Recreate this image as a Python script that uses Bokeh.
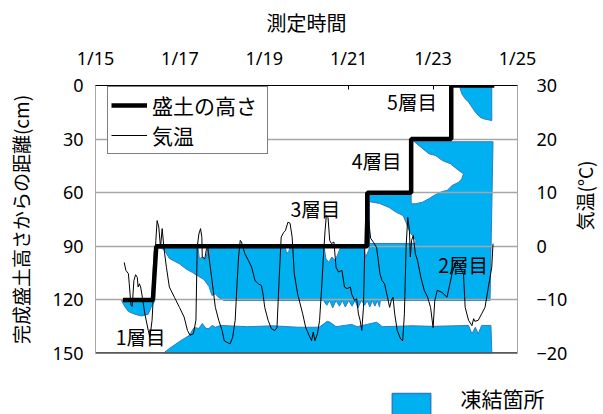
from math import pi
from bokeh.plotting import figure
from bokeh.layouts import column, row
from bokeh.models import Range1d, LinearAxis, FixedTicker, Legend, LegendItem, Label
from bokeh.embed import file_html
from bokeh.resources import INLINE
from bokeh.core.properties import value

JP = "Noto Sans CJK JP"
NUM = "Noto Sans"

# ---- axis ticks ----
date_ticks = [15, 17, 19, 21, 23, 25]
date_labels = ["1/15", "1/17", "1/19", "1/21", "1/23", "1/25"]
depth_ticks = [0, 30, 60, 90, 120, 150]
grid_depths = [30, 60, 90, 120]
temp_ticks = [-20, -10, 0, 10, 20, 30]

# ---- embankment height (distance from finished surface, cm) ----
step_day = [15.65, 16.36, 16.44, 21.44, 21.44, 22.48, 22.48, 23.43, 23.43, 24.45]
step_depth = [120, 120, 90, 90, 60, 60, 30, 30, 0, 0]

# ---- air temperature ----
temp_day = [15.68, 15.72, 15.78, 15.80, 15.84, 15.87, 15.91, 15.95, 15.99, 16.01,
            16.04, 16.07, 16.11, 16.17, 16.25, 16.29, 16.34, 16.39, 16.43, 16.46,
            16.50, 16.54, 16.58, 16.62, 16.68, 16.75, 16.87, 16.99, 17.10, 17.18,
            17.24, 17.32, 17.38, 17.41, 17.45, 17.49, 17.52, 17.53, 17.59, 17.63,
            17.66, 17.73, 17.79, 17.84, 17.92, 18.00, 18.05, 18.11, 18.19, 18.25,
            18.31, 18.35, 18.39, 18.43, 18.46, 18.54, 18.62, 18.70, 18.78, 18.86,
            18.93, 18.97, 19.01, 19.09, 19.17, 19.25, 19.30, 19.35, 19.40, 19.46,
            19.50, 19.56, 19.61, 19.66, 19.71, 19.79, 19.91, 19.98, 20.06, 20.12,
            20.16, 20.20, 20.26, 20.31, 20.36, 20.40, 20.44, 20.47, 20.51, 20.55,
            20.59, 20.65, 20.70, 20.76, 20.84, 20.90, 20.96, 21.04, 21.07, 21.14,
            21.19, 21.23, 21.27, 21.31, 21.35, 21.39, 21.41, 21.46, 21.52, 21.59,
            21.66, 21.70, 21.74, 21.79, 21.85, 21.92, 21.97, 22.01, 22.05, 22.09,
            22.15, 22.23, 22.28, 22.32, 22.36, 22.40, 22.44, 22.46, 22.49, 22.53,
            22.58, 22.63, 22.71, 22.79, 22.87, 22.94, 23.00, 23.04, 23.10, 23.21,
            23.33, 23.45, 23.53, 23.64, 23.72, 23.76, 23.84, 23.92, 23.96, 23.99,
            24.07, 24.15, 24.23, 24.31, 24.39, 24.42]
temp_val = [-3.0, -4.5, -5.1, -7.0, -11.0, -11.2, -6.4, -5.3, -5.8, -7.6,
            -7.0, -7.6, -9.5, -12.6, -15.7, -17.0, -13.8, -6.4, 1.1, 4.8,
            3.6, -0.2, 3.3, -0.2, -3.9, -7.6, -9.5, -11.4, -13.2, -15.7,
            -16.6, -16.3, -13.8, -0.2, 2.3, 3.3, 1.7, -2.0, -2.3, -0.5,
            -0.2, -4.5, -8.2, -11.4, -13.8, -15.7, -17.6, -17.9, -18.2, -17.0,
            -13.8, -7.6, -2.0, 1.1, 0.8, -1.4, -2.6, -3.9, -6.4, -7.0,
            -7.3, -8.9, -11.4, -13.8, -15.4, -15.7, -15.2, -6.4, 1.7, 2.6,
            2.9, 4.5, 4.3, 1.7, -5.1, -8.9, -12.6, -15.1, -16.6, -17.6,
            -16.0, -17.6, -16.3, -13.8, -7.6, -2.0, 2.9, 5.7, 5.4, 1.1,
            0.5, 0.8, -3.9, -4.8, -4.5, -7.6, -7.9, -7.6, -8.9, -10.1,
            -9.8, -12.6, -13.8, -15.7, -11.4, 2.9, 7.6, 5.7, 1.5, 0.7,
            -0.2, -2.6, -5.1, -6.4, -7.0, -9.5, -11.4, -10.1, -9.5, -12.6,
            -15.7, -17.3, -17.6, -12.6, -0.2, 5.4, 2.9, -2.0, 1.1, 2.0,
            -1.4, -2.6, -5.8, -8.2, -9.5, -11.4, -15.2, -10.1, -8.2, -8.6,
            -9.5, -5.1, -3.0, -3.9, -5.1, -11.4, -13.8, -14.8, -13.5, -14.0,
            -13.8, -12.6, -11.4, -7.6, -3.9, 0.5]

# ---- frozen zones (day, depth cm) ----
frozen1_day = [15.62, 16.33, 16.39, 16.43, 16.42, 16.40, 16.36, 16.32, 16.25, 16.09, 15.93, 15.78, 15.70, 15.62]
frozen1_dep = [120, 120, 93, 92, 100, 121, 122, 124, 128, 129, 128, 126.5, 124, 120.5]

frozen2_day = [16.47, 17.43, 17.46, 17.53, 17.60, 17.67, 19.50, 19.53, 19.58, 19.60,
               20.42, 20.46, 20.53, 20.60, 20.68, 20.75, 20.80, 21.36, 21.40, 21.44,
               21.48, 21.48, 22.48, 22.48, 24.42, 24.35, 21.75, 21.73, 21.68, 21.62,
               21.56, 21.50, 21.44, 21.38, 21.30, 21.22, 21.15, 21.08, 21.00, 20.92,
               20.85, 20.78, 20.70, 20.62, 20.55, 20.48, 20.40, 18.04, 17.92, 17.84,
               17.76, 17.69, 17.57, 17.45, 17.30, 17.14, 16.99, 16.75, 16.64, 16.57]
frozen2_dep = [91, 91, 97, 96, 98, 91, 91, 94, 93, 91,
               91, 97, 99, 96, 98, 94, 91, 91, 96, 94,
               92, 61, 61, 31.5, 31.5, 120.3, 120.3, 124, 120.3, 123.5,
               120.3, 124, 120.3, 123, 120.3, 124.5, 120.3, 123.5, 120.3, 124,
               120.3, 123.5, 120.3, 124.5, 120.3, 123, 120.3, 120.3, 118.7, 116.6,
               117.5, 112.5, 108.6, 106.9, 104.7, 102.6, 99.8, 96.8, 92.4, 91.2]

frozen_base_day = [16.60, 16.75, 16.99, 17.22, 17.34, 17.45, 17.53, 17.62, 17.69, 17.76,
                   17.84, 17.96, 18.6, 19.2, 19.8, 20.30, 20.49, 20.56, 20.70, 21.07,
                   21.20, 21.66, 21.80, 22.5, 23.0, 23.84, 23.92, 24.00, 24.07, 24.15,
                   24.37, 24.39, 24.39]
frozen_base_dep = [150, 147.2, 143.3, 139.9, 135.4, 136, 133.2, 136, 136, 134.3,
                   135.3, 134.3, 135, 134.5, 135.3, 135.3, 132, 132.5, 135, 133.7,
                   135, 132.5, 135, 134.5, 134.8, 134.3, 139, 135.3, 139, 134.3,
                   134.3, 148, 150]

frozen5_day = [23.64, 24.39, 24.39, 24.19, 24.11, 24.00, 23.92, 23.84, 23.76, 23.68, 23.64]
frozen5_dep = [1.0, 1.0, 19.6, 18.6, 17.7, 14.9, 12.1, 9.3, 7.4, 4.6, 1.5]

# unfrozen pockets inside layers 3 and 4
thaw3_day = [21.49, 21.73, 21.96, 22.13, 22.29, 22.36, 22.45, 22.55, 22.59, 22.59, 21.49]
thaw3_dep = [65, 66, 68.3, 71, 72.8, 76.7, 82.3, 85, 86.8, 88.4, 88.4]
thaw4_day = [22.48, 22.52, 22.71, 22.90, 23.06, 23.22, 23.41, 23.61, 23.72, 23.68,
             23.61, 23.45, 23.33, 23.22, 23.14, 23.02, 22.90, 22.75, 22.59, 22.48]
thaw4_dep = [30.2, 30.8, 34.5, 38.2, 39.2, 42.0, 43.8, 47.6, 49.4, 52.2,
             54.1, 56.0, 58.8, 59.3, 60.1, 61.6, 63.4, 65.3, 66.2, 66.2]

layer_names = ["1層目", "2層目", "3層目", "4層目", "5層目"]
layer_day = [16.07, 23.71, 20.21, 21.66, 22.50]
layer_dep = [140.5, 100.2, 68.8, 42.0, 9.0]

frozen_xs = [frozen1_day, frozen2_day, frozen_base_day, frozen5_day]
frozen_ys = [frozen1_dep, frozen2_dep, frozen_base_dep, frozen5_dep]

BLUE = "#00B0F0"
EDGE = "#2E7CC4"
GRID = "#A6A6A6"

# ================= main chart =================
p = figure(width=570, height=380, x_range=Range1d(15, 25), y_range=Range1d(150, 0),
           x_axis_location="above", toolbar_location=None, output_backend="svg",
           min_border_left=95, min_border_right=47, min_border_top=85, min_border_bottom=27)
p.extra_y_ranges = {"temp": Range1d(-20, 30)}
p.xgrid.visible = False
p.ygrid.visible = False
p.outline_line_color = GRID
p.background_fill_color = "white"
p.border_fill_color = "white"

xa = p.xaxis[0]
xa.ticker = FixedTicker(ticks=date_ticks)
xa.major_label_overrides = {t: l for t, l in zip(date_ticks, date_labels)}
xa.minor_tick_line_color = None
xa.major_tick_in = 4
xa.major_tick_out = 0
xa.axis_line_color = "black"
xa.major_tick_line_color = "black"
xa.major_label_standoff = 16
xa.major_label_text_font = NUM
xa.major_label_text_font_size = "18px"
xa.major_label_text_color = "black"
xa.axis_label = "測定時間"
xa.axis_label_text_font = JP
xa.axis_label_text_font_size = "20px"
xa.axis_label_text_font_style = "normal"
xa.axis_label_text_color = "black"
xa.axis_label_standoff = 6

ya = p.yaxis[0]
ya.ticker = FixedTicker(ticks=depth_ticks)
ya.minor_tick_line_color = None
ya.major_tick_in = 0
ya.major_tick_out = 0
ya.axis_line_color = GRID
ya.major_label_standoff = 12
ya.major_label_text_font = NUM
ya.major_label_text_font_size = "18px"
ya.major_label_text_color = "black"
ya.axis_label = "完成盛土高さからの距離(cm)"
ya.axis_label_text_font = JP
ya.axis_label_text_font_size = "19px"
ya.axis_label_text_font_style = "normal"
ya.axis_label_text_color = "black"
ya.axis_label_standoff = 16

ra = LinearAxis(y_range_name="temp", ticker=FixedTicker(ticks=temp_ticks))
ra.minor_tick_line_color = None
ra.major_tick_in = 0
ra.major_tick_out = 0
ra.axis_line_color = GRID
ra.major_label_standoff = 19
ra.major_label_text_font = NUM
ra.major_label_text_font_size = "18px"
ra.major_label_text_color = "black"
p.add_layout(ra, "right")

frozen_r = p.patches(xs=frozen_xs, ys=frozen_ys,
                     fill_color=BLUE, line_color=EDGE, line_width=1)
p.patches(xs=[thaw3_day, thaw4_day], ys=[thaw3_dep, thaw4_dep],
          fill_color="white", line_color=EDGE, line_width=1)

p.hspan(y=grid_depths, line_color=GRID, line_width=1.3)
p.hspan(y=[150], line_color="#595959", line_width=3)

step_r = p.line(step_day, step_depth, line_color="black", line_width=4.5)
temp_r = p.line(temp_day, temp_val, y_range_name="temp", line_color="black", line_width=1)

p.text(x=layer_day, y=layer_dep, text=layer_names, text_font=value(JP),
       text_font_size="19.5px", text_align="center", text_baseline="middle", text_color="black")

leg = Legend(items=[LegendItem(label="盛土の高さ", renderers=[step_r]),
                    LegendItem(label="気温", renderers=[temp_r])],
             location=(12, 199), margin=0, padding=3, spacing=0,
             glyph_width=36, glyph_height=20, label_standoff=5,
             label_width=112, label_height=28,
             label_text_font=JP, label_text_font_size="21px", label_text_color="black",
             label_text_line_height=0.8,
             border_line_color="black", border_line_width=1,
             background_fill_color="white", background_fill_alpha=1)
p.add_layout(leg)

# ================= right-hand axis title strip =================
pr = figure(width=33, height=380, x_range=Range1d(0, 1), y_range=Range1d(0, 1),
            x_axis_location=None, y_axis_location=None, toolbar_location=None,
            output_backend="svg", min_border=0)
pr.xgrid.visible = False
pr.ygrid.visible = False
pr.outline_line_color = None
pr.add_layout(Label(x=14, y=158, x_units="screen", y_units="screen", text="気温(°C)",
                    angle=pi / 2, text_align="center", text_baseline="middle",
                    text_font=JP, text_font_size="19px", text_color="black"))

# ================= bottom legend strip =================
p2 = figure(width=603, height=34, x_range=Range1d(15, 25), y_range=Range1d(150, 0),
            x_axis_location=None, y_axis_location=None, toolbar_location=None,
            output_backend="svg", min_border=0)
p2.xgrid.visible = False
p2.ygrid.visible = False
p2.outline_line_color = None
swatch_r = p2.patches(xs=frozen_xs, ys=frozen_ys, fill_color=BLUE, line_color=EDGE,
                      line_width=1.5, visible=False)
leg2 = Legend(items=[LegendItem(label=" ", renderers=[swatch_r])],
              location=(387, -6), margin=0, padding=0, spacing=0,
              glyph_width=48, glyph_height=30, label_height=30, label_standoff=0,
              label_text_font=JP, label_text_font_size="21px",
              inactive_fill_alpha=0, click_policy="none",
              border_line_alpha=0, background_fill_alpha=0)
p2.add_layout(leg2)
p2.add_layout(Label(x=460, y=17, x_units="screen", y_units="screen", text="凍結箇所",
                    text_align="left", text_baseline="middle",
                    text_font=JP, text_font_size="21px", text_color="black"))

layout = column(row(p, pr), p2)
open("out.html", "w").write(file_html(layout, INLINE))
